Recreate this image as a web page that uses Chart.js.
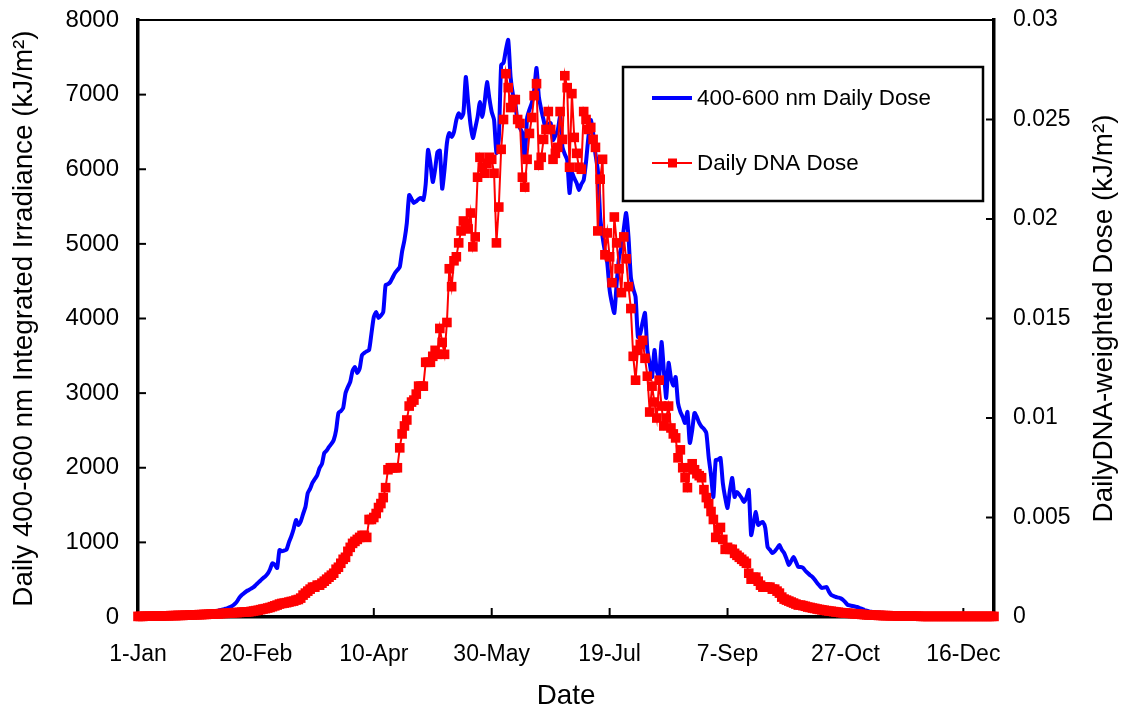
<!DOCTYPE html>
<html>
<head>
<meta charset="utf-8">
<script src="https://cdn.jsdelivr.net/npm/chart.js@4.4.1/dist/chart.umd.min.js"></script>
<style>
html,body{margin:0;padding:0;background:#fff;}
#wrap{width:1125px;height:708px;position:relative;}
</style>
</head>
<body>
<div id="wrap"><canvas id="c"></canvas></div>
<script>
// ---- Data (day index 0 = 1-Jan) ----
const xTickLabels = ['1-Jan','20-Feb','10-Apr','30-May','19-Jul','7-Sep','27-Oct','16-Dec'];
const yLeftTickLabels = ['0','1000','2000','3000','4000','5000','6000','7000','8000'];
const yRightTickLabels = ['0','0.005','0.01','0.015','0.02','0.025','0.03'];
const seriesNames = ['400-600 nm Daily Dose','Daily DNA Dose'];

// Daily 400-600 nm integrated irradiance (kJ/m2), left axis
const visDose = [
5,6,5,7,6,8,7,9,8,10,
9,11,10,12,13,12,14,15,16,18,
20,22,25,24,28,32,35,38,42,48,
55,60,68,75,85,95,100,110,118,134,
150,175,210,260,295,320,345,362,380,400,
430,460,490,520,545,580,640,720,700,656,
898,880,890,905,1000,1080,1180,1300,1233,1280,
1380,1474,1660,1720,1800,1850,1900,1997,2050,2198,
2230,2280,2320,2372,2500,2734,2760,2800,3000,3082,
3150,3300,3350,3270,3330,3511,3540,3560,3578,3800,
4020,4087,4007,4040,4087,4449,4460,4489,4550,4610,
4650,4690,4900,5052,5280,5655,5600,5548,5570,5600,
5615,5588,5800,6258,6084,5829,6000,6231,6250,5740,
6000,6350,6486,6432,6499,6660,6750,6687,6754,7236,
6900,6600,6419,6550,6700,6901,6700,6900,7169,6950,
6767,6660,6218,6400,7397,7424,7600,7732,7236,7000,
6888,6620,6550,6486,6124,6687,6800,6888,7062,7357,
6968,6800,6660,6526,6600,6620,6392,6450,6526,6700,
6298,6200,6124,5682,5950,5880,5816,5722,5800,5856,
6100,6432,6660,6486,6200,5990,5360,5092,4900,4744,
4382,4200,4074,4476,4824,4958,5200,5414,5092,4556,
4400,4288,3752,3800,3950,4074,3578,3400,3216,3578,
3300,3216,3685,3300,2935,3404,3200,3100,3216,2868,
2750,2680,2600,2747,2332,2500,2734,2680,2600,2550,
2520,2466,2144,1900,1608,2104,2110,2131,1796,1600,
1461,1700,1863,1608,1675,1640,1595,1541,1600,1702,
1099,1250,1407,1233,1260,1273,1193,938,900,858,
880,920,965,900,858,780,697,750,804,740,
670,670,660,620,590,560,536,500,456,420,
389,395,402,340,295,280,268,260,250,228,
195,161,155,147,140,134,120,110,94,85,
75,70,67,62,60,58,56,54,52,48,
42,38,34,30,27,24,22,20,18,16,
15,14,12,11,10,10,9,8,8,7,
7,6,6,5,5,5,4,4,4,4,
3,3,3,3,3,3,3,3,3,3,
3,3,3,3
];

// Daily DNA-weighted dose (kJ/m2), right axis
const dnaDose = [
0.00003,0.00003,0.00003,0.00004,0.00004,0.00004,0.00004,0.00005,0.00005,0.00005,
0.00005,0.00006,0.00006,0.00006,0.00007,0.00007,0.00007,0.00008,0.00008,0.00008,
0.00009,0.00009,0.0001,0.0001,0.00011,0.00011,0.00012,0.00012,0.00013,0.00013,
0.00014,0.00015,0.00015,0.00016,0.00016,0.00017,0.00018,0.00018,0.00019,0.0002,
0.00021,0.00022,0.00022,0.00023,0.00024,0.00025,0.00025,0.00026,0.00028,0.0003,
0.00032,0.00034,0.00037,0.0004,0.00042,0.00045,0.00048,0.00052,0.00056,0.0006,
0.00065,0.00068,0.0007,0.00072,0.00075,0.00078,0.0008,0.00085,0.00088,0.00095,
0.0011,0.0012,0.0013,0.0014,0.0015,0.0015,0.0016,0.0016,0.0017,0.0018,
0.0019,0.002,0.0021,0.0022,0.0024,0.0025,0.0027,0.0029,0.003,0.0033,
0.0035,0.0037,0.0038,0.0039,0.004,0.0041,0.0041,0.004,0.0049,0.0049,
0.005,0.0052,0.0055,0.0057,0.006,0.0065,0.0074,0.0075,0.0075,0.0075,
0.0075,0.0085,0.0092,0.0096,0.0099,0.0106,0.0108,0.0109,0.0112,0.0116,
0.0116,0.0116,0.0128,0.0128,0.0128,0.0131,0.0134,0.0132,0.0145,0.0138,
0.0132,0.0148,0.0175,0.0166,0.0179,0.0181,0.0188,0.0194,0.0199,0.0198,
0.0195,0.0203,0.0186,0.0191,0.0221,0.0231,0.0226,0.0223,0.0228,0.0231,
0.0230,0.0223,0.0188,0.0206,0.0235,0.0250,0.0273,0.0266,0.0256,0.0260,
0.0260,0.0250,0.0248,0.0221,0.0216,0.0230,0.0243,0.0251,0.0262,0.0268,
0.0227,0.0231,0.0240,0.0245,0.0254,0.0245,0.0230,0.0233,0.0236,0.0254,
0.0240,0.0272,0.0266,0.0226,0.0263,0.0241,0.0233,0.0226,0.0225,0.0254,
0.0250,0.0245,0.0246,0.0240,0.0236,0.0194,0.0220,0.0230,0.0182,0.0193,
0.0181,0.0168,0.0201,0.0188,0.0175,0.0163,0.0191,0.0180,0.0166,0.0155,
0.0131,0.0119,0.0134,0.0137,0.0139,0.0130,0.0121,0.0103,0.0116,0.0108,
0.0100,0.0119,0.0106,0.0096,0.0100,0.0106,0.0095,0.0092,0.0090,0.0080,
0.0084,0.0075,0.0070,0.0065,0.0075,0.0077,0.0074,0.0072,0.0071,0.0070,
0.0064,0.0060,0.0057,0.0053,0.0049,0.0040,0.0044,0.0045,0.0039,0.0034,
0.0035,0.0034,0.0034,0.0032,0.0031,0.0030,0.0029,0.0028,0.0027,0.0022,
0.0019,0.0020,0.0020,0.0018,0.0016,0.0015,0.0015,0.0015,0.0015,0.0014,
0.0014,0.0013,0.0012,0.0010,0.0009,0.00085,0.0008,0.00075,0.0007,0.00065,
0.0006,0.0006,0.00057,0.00054,0.0005,0.00048,0.00045,0.00043,0.0004,0.00038,
0.00036,0.00034,0.00032,0.0003,0.00029,0.00027,0.00025,0.00024,0.00022,0.00021,
0.0002,0.00019,0.00018,0.00017,0.00016,0.00015,0.00014,0.00013,0.00012,0.00011,
0.0001,0.0001,0.00009,0.00009,0.00008,0.00008,0.00007,0.00007,0.00007,0.00006,
0.00006,0.00006,0.00005,0.00005,0.00005,0.00005,0.00004,0.00004,0.00004,0.00004,
0.00004,0.00004,0.00003,0.00003,0.00003,0.00003,0.00003,0.00003,0.00003,0.00003,
0.00003,0.00003,0.00003,0.00003,0.00003,0.00003,0.00003,0.00003,0.00003,0.00003,
0.00003,0.00003,0.00003,0.00003,0.00003,0.00003,0.00003,0.00003,0.00003,0.00003,
0.00003,0.00003,0.00003,0.00003
];

const FONT = "Arial, 'Liberation Sans', Helvetica, sans-serif";
const BLUE = '#0000FF';
const RED = '#FF0000';

const decor = {
  id: 'decor',
  beforeDatasetsDraw(chart) {
    const {ctx, chartArea: a, scales} = chart;
    ctx.save();
    ctx.strokeStyle = '#000';
    ctx.lineWidth = 2;
    ctx.beginPath(); ctx.moveTo(a.left, a.top); ctx.lineTo(a.right + 1, a.top); ctx.stroke();
    ctx.lineWidth = 2;
    scales.x.ticks.forEach(t => {
      const p = scales.x.getPixelForValue(t.value);
      ctx.beginPath(); ctx.moveTo(p, a.bottom); ctx.lineTo(p, a.bottom - 9); ctx.stroke();
    });
    scales.y.ticks.forEach(t => {
      const p = scales.y.getPixelForValue(t.value);
      ctx.beginPath(); ctx.moveTo(a.left, p); ctx.lineTo(a.left + 8, p); ctx.stroke();
    });
    scales.y2.ticks.forEach(t => {
      const p = scales.y2.getPixelForValue(t.value);
      ctx.beginPath(); ctx.moveTo(a.right, p); ctx.lineTo(a.right - 8, p); ctx.stroke();
    });
    ctx.restore();
  },
  afterDraw(chart) {
    const {ctx, chartArea: a} = chart;
    ctx.save();
    // right axis title (reads bottom to top)
    ctx.fillStyle = '#000';
    ctx.font = '27.8px ' + FONT;
    ctx.textAlign = 'center';
    ctx.textBaseline = 'middle';
    ctx.translate(1104, (a.top + a.bottom) / 2);
    ctx.rotate(-Math.PI / 2);
    ctx.fillText('DailyDNA-weighted Dose (kJ/m\u00B2)', 0, 0);
    ctx.restore();

    // legend box
    const bx = a.left + 485, by = a.top + 47, bw = 360, bh = 134;
    ctx.save();
    ctx.fillStyle = '#fff';
    ctx.fillRect(bx, by, bw, bh);
    ctx.strokeStyle = '#000';
    ctx.lineWidth = 2.5;
    ctx.strokeRect(bx, by, bw, bh);
    // blue entry
    ctx.strokeStyle = BLUE; ctx.lineWidth = 4;
    ctx.beginPath(); ctx.moveTo(bx + 29, by + 31); ctx.lineTo(bx + 69, by + 31); ctx.stroke();
    // red entry
    ctx.strokeStyle = RED; ctx.lineWidth = 2;
    ctx.beginPath(); ctx.moveTo(bx + 29, by + 96); ctx.lineTo(bx + 69, by + 96); ctx.stroke();
    ctx.fillStyle = RED;
    ctx.fillRect(bx + 45, by + 91.5, 9, 9);
    ctx.fillStyle = '#000';
    ctx.font = '22.4px ' + FONT;
    ctx.textAlign = 'left';
    ctx.textBaseline = 'middle';
    ctx.fillText(seriesNames[0], bx + 74, by + 32);
    ctx.fillText(seriesNames[1], bx + 74, by + 97);
    ctx.restore();
  }
};

const tickFont = {size: 23, family: FONT};
const leftTickFont = {size: 24, family: FONT};
const titleFont = {size: 27.8, family: FONT, lineHeight: 1};

function fixVertical(width) {
  return function (s) { s.width = width; s.paddingTop = 0; s.paddingBottom = 0; };
}

new Chart(document.getElementById('c'), {
  type: 'line',
  data: {
    datasets: [
      {
        label: seriesNames[1],
        data: dnaDose.map((v, i) => ({x: i, y: v})),
        yAxisID: 'y2',
        borderColor: RED,
        backgroundColor: RED,
        borderWidth: 2,
        pointStyle: 'rect',
        pointRadius: 6.8,
        pointBorderWidth: 0,
        pointBackgroundColor: RED,
        tension: 0,
        clip: false,
        order: 0
      },
      {
        label: seriesNames[0],
        data: visDose.map((v, i) => ({x: i, y: v})),
        yAxisID: 'y',
        borderColor: BLUE,
        backgroundColor: BLUE,
        borderWidth: 4,
        pointRadius: 0,
        tension: 0.2,
        order: 1
      }
    ]
  },
  options: {
    responsive: true,
    maintainAspectRatio: false,
    animation: false,
    layout: {padding: {top: 20, left: 0, right: 0, bottom: 0}},
    plugins: {legend: {display: false}, tooltip: {enabled: false}},
    scales: {
      x: {
        type: 'linear', position: 'bottom', min: 0, max: 363,
        grid: {display: false, drawTicks: false},
        border: {display: true, color: '#000', width: 3.5},
        ticks: {
          stepSize: 50, includeBounds: false, autoSkip: false, maxRotation: 0,
          padding: 24, color: '#000', font: tickFont,
          callback: v => xTickLabels[Math.round(v / 50)]
        },
        title: {display: true, text: 'Date', color: '#000', font: titleFont, padding: {top: 0, bottom: -2}},
        afterFit(s) { s.height = 91; }
      },
      y: {
        type: 'linear', position: 'left', min: 0, max: 8000,
        grid: {display: false, drawTicks: false},
        border: {display: true, color: '#000', width: 3.5},
        ticks: {
          stepSize: 1000, padding: 19, color: '#000', font: leftTickFont,
          callback: v => yLeftTickLabels[Math.round(v / 1000)]
        },
        title: {display: true, text: 'Daily 400-600 nm Integrated Irradiance (kJ/m\u00B2)', color: '#000', font: titleFont, padding: {top: 10, bottom: 0}},
        afterFit: fixVertical(138)
      },
      y2: {
        type: 'linear', position: 'right', min: 0, max: 0.03,
        grid: {display: false, drawTicks: false},
        border: {display: true, color: '#000', width: 3.5},
        ticks: {
          stepSize: 0.005, padding: 19, color: '#000', font: tickFont,
          callback: v => yRightTickLabels[Math.round(v / 0.005)]
        },
        title: {display: false},
        afterFit: fixVertical(131)
      }
    }
  },
  plugins: [decor]
});
</script>
</body>
</html>
